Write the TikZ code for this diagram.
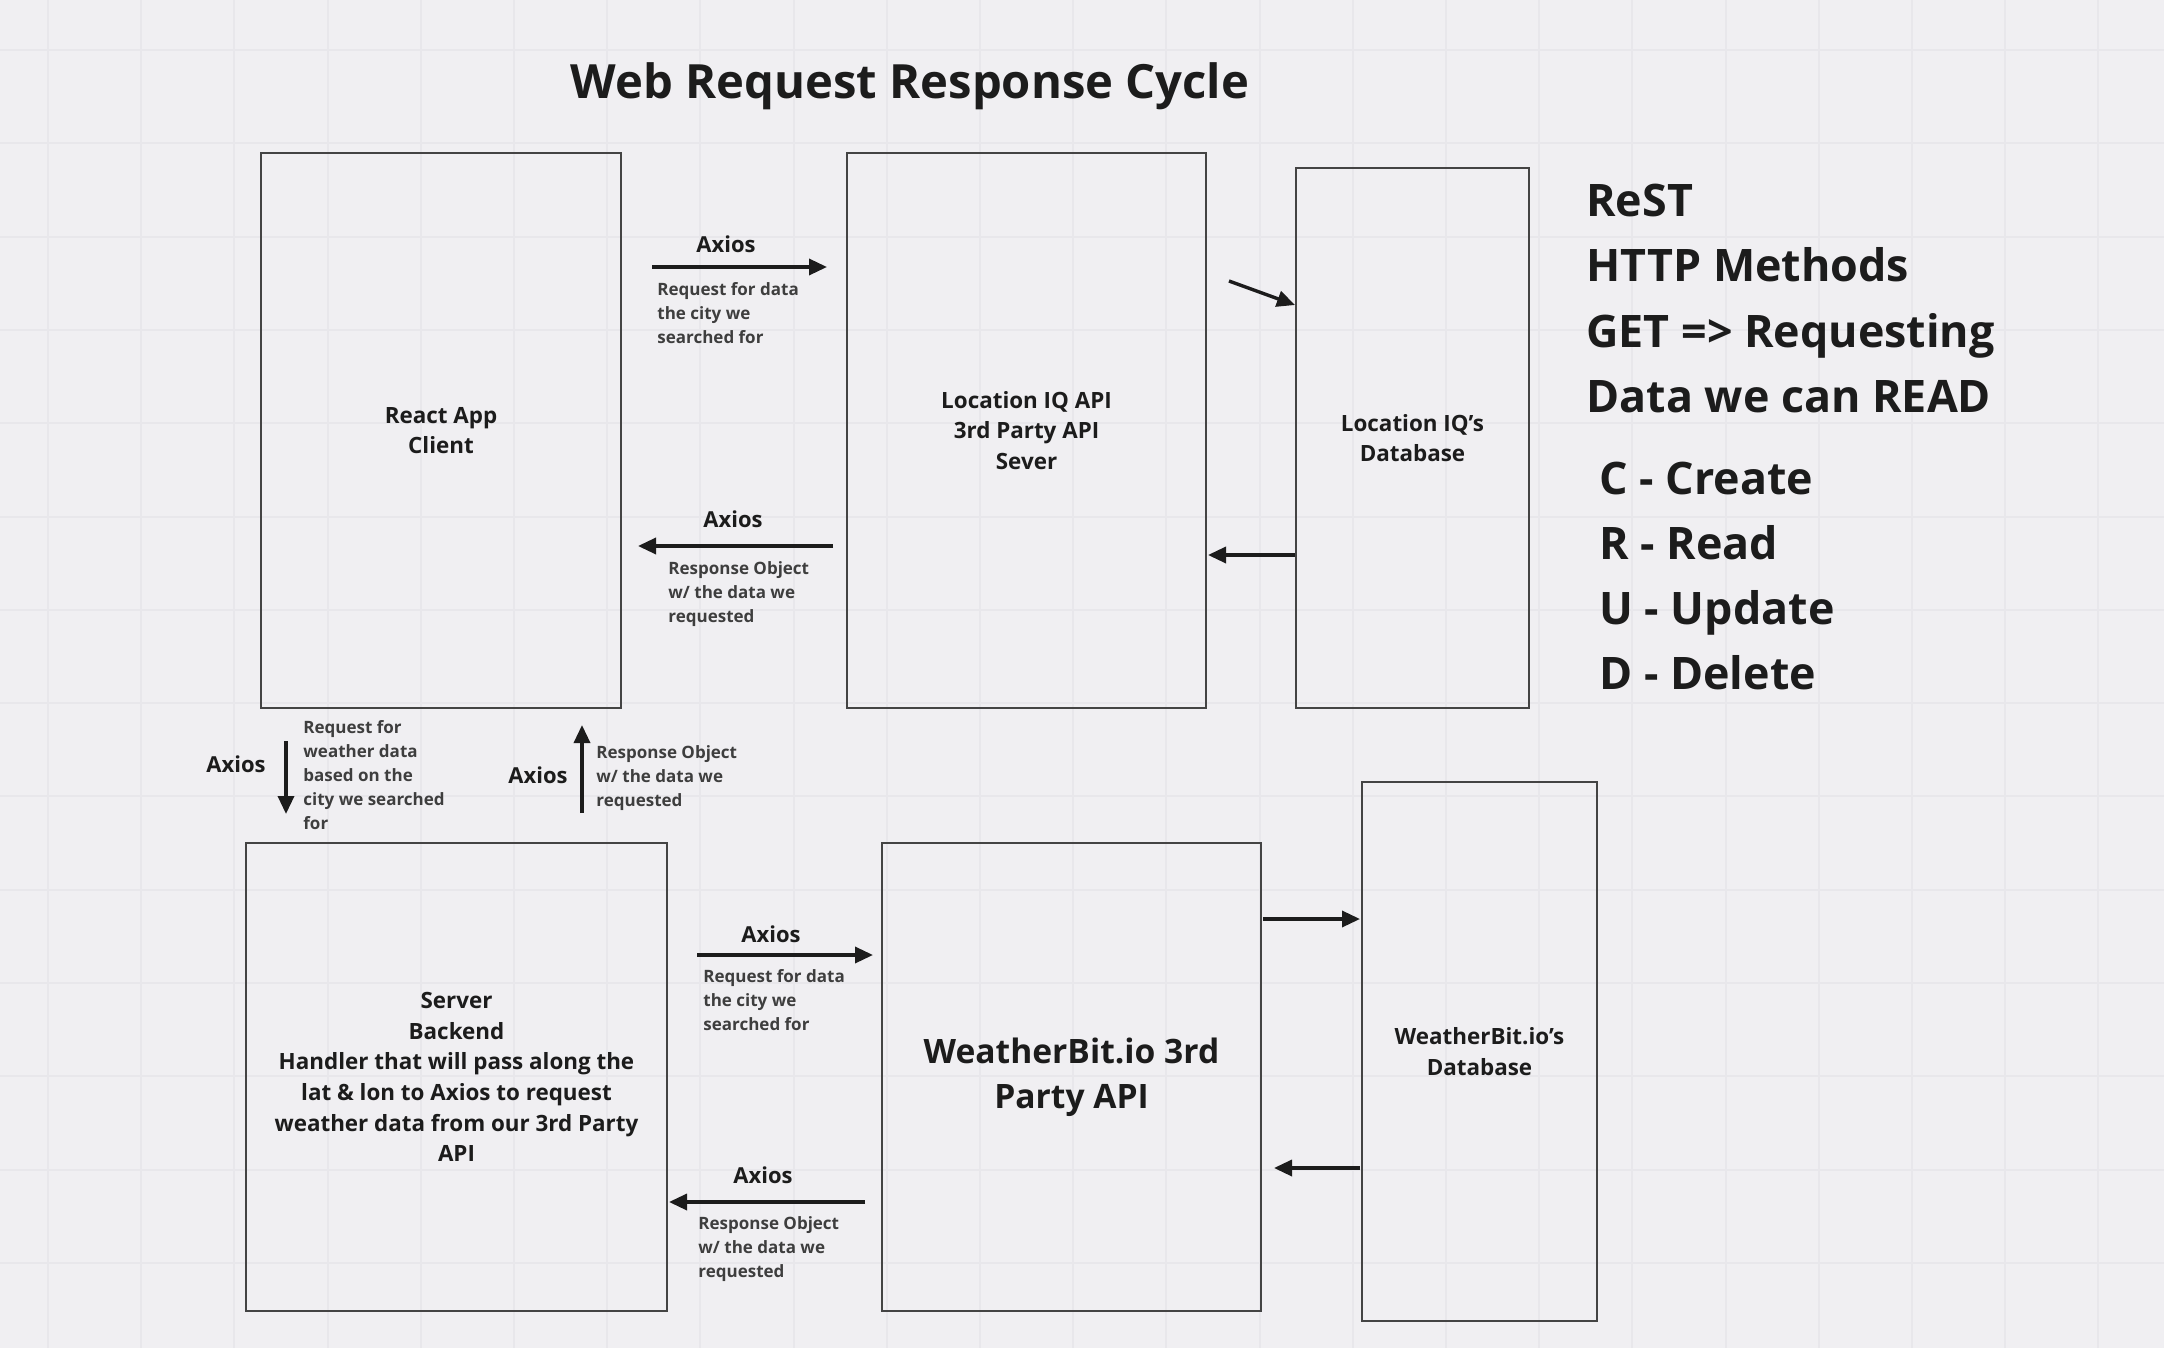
\documentclass[tikz,border=0pt]{standalone}
\usepackage{fontspec}
\setmainfont{Open Sans}
\usetikzlibrary{arrows.meta,calc}
\definecolor{bg}{HTML}{F0EFF2}
\definecolor{gridc}{HTML}{E8E7EB}
\definecolor{ink}{HTML}{1C1C1C}
\definecolor{edge}{HTML}{444444}
\newcommand\ttlfont{\fontsize{23.6}{28}\selectfont\bfseries}
\newcommand\sidefont{\fontsize{22.4}{26}\selectfont\bfseries}
\newcommand\axfont{\fontsize{11}{13}\selectfont\bfseries}
\newcommand\smfont{\fontsize{8.5}{12}\selectfont\bfseries}
\newcommand\bxfont{\fontsize{11.2}{15.3}\selectfont\bfseries}
\newcommand\wbfont{\fontsize{16.8}{22.7}\selectfont\bfseries}
\begin{document}
\begin{tikzpicture}[x=0.5pt,y=-0.5pt,
  box/.style={draw=edge, line width=1.1pt, inner sep=0pt, align=center, text=ink, font=\bxfont},
  arr/.style={draw=ink, line width=1.7pt, -{Triangle[length=9pt,width=8pt]}},
  axlbl/.style={font=\axfont, text=ink, inner sep=0pt, anchor=base},
  smalltxt/.style={font=\smfont, align=left, inner sep=0pt, anchor=north west, text=ink!85},
  side/.style={font=\sidefont, text=ink, inner sep=0pt, anchor=base west}]
\fill[bg] (0,0) rectangle (2164,1348);
\useasboundingbox (0,0) rectangle (2164,1348);
\foreach \i in {0,...,22} \draw[gridc, line width=1pt] ({48+93.2*\i},0) -- ({48+93.2*\i},1348);
\foreach \j in {0,...,14} \draw[gridc, line width=1pt] (0,{50+93.3*\j}) -- (2164,{50+93.3*\j});

% title
\node[font=\ttlfont, text=ink, inner sep=0pt, anchor=base] (title) at (910,99) {Web Request Response Cycle};

% boxes
\node[box, minimum width=180pt, minimum height=277.5pt] (react) at (441,430.5) {React App\\Client};
\node[box, minimum width=179.5pt, minimum height=277.5pt] (lociq) at (1026.5,430.5) {Location IQ API\\3rd Party API\\Sever};
\node[box, minimum width=116.5pt, minimum height=270pt] (locdb) at (1412.5,438) {Location IQ's\\Database};
\node[box, minimum width=210.5pt, minimum height=234pt] (server) at (456.5,1077) {Server\\Backend\\Handler that will pass along the\\lat \& lon to Axios to request\\weather data from our 3rd Party\\API};
\node[box, font=\wbfont, minimum width=189.5pt, minimum height=234pt] (wb) at (1071.5,1077) {WeatherBit.io 3rd\\Party API};
\node[box, minimum width=117.5pt, minimum height=269.5pt] (wbdb) at (1479.5,1051.5) {WeatherBit.io's\\Database};

% connector end points
\coordinate (a1s) at (652,267);  \coordinate (a1e) at (827,267);
\coordinate (a2s) at (833,546);  \coordinate (a2e) at (638,546);
\coordinate (a3s) at (1229,281); \coordinate (a3e) at (1295,305);
\coordinate (a4s) at (1295,555); \coordinate (a4e) at (1208,555);
\coordinate (v1s) at (286,741);  \coordinate (v1e) at (286,814);
\coordinate (v2s) at (582,813);  \coordinate (v2e) at (582,725);
\coordinate (b1s) at (697,955);  \coordinate (b1e) at (873,955);
\coordinate (b2s) at (865,1202); \coordinate (b2e) at (669,1202);
\coordinate (b3s) at (1263,919); \coordinate (b3e) at (1360,919);
\coordinate (b4s) at (1360,1168);\coordinate (b4e) at (1274,1168);

\draw[arr] (a1s) -- (a1e);
\draw[arr] (a2s) -- (a2e);
\draw[arr] (a3s) -- (a3e);
\draw[arr] (a4s) -- (a4e);
\draw[arr] (v1s) -- (v1e);
\draw[arr] (v2s) -- (v2e);
\draw[arr] (b1s) -- (b1e);
\draw[arr] (b2s) -- (b2e);
\draw[arr] (b3s) -- (b3e);
\draw[arr] (b4s) -- (b4e);

% Axios labels
\node[axlbl] (ax1) at (726,253) {Axios};
\node[axlbl] (ax2) at (733,527) {Axios};
\node[axlbl, anchor=base west] (ax3) at (206,772) {Axios};
\node[axlbl, anchor=base east] (ax4) at (568,783) {Axios};
\node[axlbl] (ax5) at (771,942) {Axios};
\node[axlbl] (ax6) at (763,1183) {Axios};

% small labels
\node[smalltxt] (t1) at (657,282) {Request for data\\the city we\\searched for};
\node[smalltxt] (t2) at (668,561) {Response Object\\w/ the data we\\requested};
\node[smalltxt] (t3) at (303,720) {Request for\\weather data\\based on the\\city we searched\\for};
\node[smalltxt] (t4) at (596,745) {Response Object\\w/ the data we\\requested};
\node[smalltxt] (t5) at (703,969) {Request for data\\the city we\\searched for};
\node[smalltxt] (t6) at (698,1216) {Response Object\\w/ the data we\\requested};

% side notes
\node[side] (s1) at (1586,217) {ReST};
\node[side] (s2) at (1586,282) {HTTP Methods};
\node[side] (s3) at (1586,348) {GET => Requesting};
\node[side] (s4) at (1586,412) {Data we can READ};
\node[side] (s5) at (1599,494) {C - Create};
\node[side] (s6) at (1599,559) {R - Read};
\node[side] (s7) at (1599,624) {U - Update};
\node[side] (s8) at (1599,689) {D - Delete};
\end{tikzpicture}
\end{document}
